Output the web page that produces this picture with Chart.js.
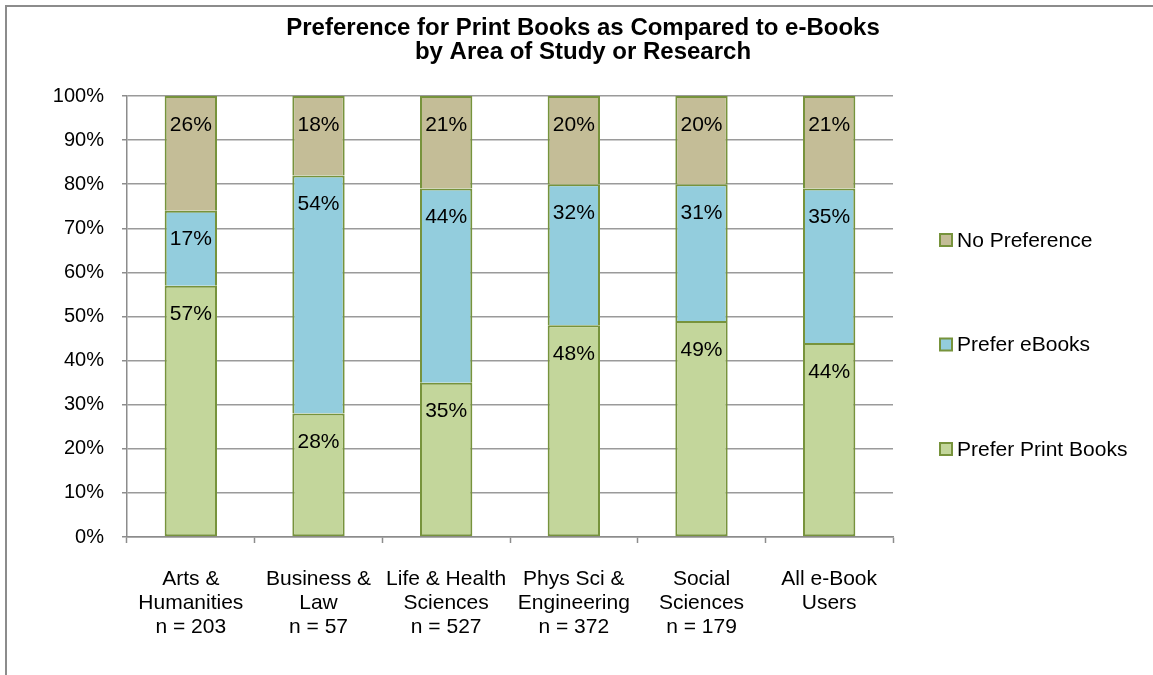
<!DOCTYPE html>
<html>
<head>
<meta charset="utf-8">
<script src="https://cdn.jsdelivr.net/npm/chart.js@4.4.0/dist/chart.umd.min.js"></script>
<style>
  html, body { margin: 0; padding: 0; background: #fff; overflow: hidden; }
  #wrap { width: 1153px; height: 675px; position: relative; }
</style>
</head>
<body>
<div id="wrap"><canvas id="prefChart" width="1153" height="675"></canvas></div>
<script>
// chart data
const categories = [
  ['Arts &', 'Humanities', 'n = 203'],
  ['Business &', 'Law', 'n = 57'],
  ['Life & Health', 'Sciences', 'n = 527'],
  ['Phys Sci &', 'Engineering', 'n = 372'],
  ['Social', 'Sciences', 'n = 179'],
  ['All e-Book', 'Users', '']
];
const preferPrint = [57, 28, 35, 48, 49, 44];
const preferEbooks = [17, 54, 44, 32, 31, 35];
const noPreference = [26, 18, 21, 20, 20, 21];
const yTicks = [0, 10, 20, 30, 40, 50, 60, 70, 80, 90, 100];
const titleLines = ['Preference for Print Books as Compared to e-Books', 'by Area of Study or Research'];

const FONT = "'Liberation Sans', Arial, sans-serif";
const EDGE = '#77933c';

// outer frame of the chart (left + top only, like the source)
const framePlugin = {
  id: 'frame',
  beforeDraw(chart) {
    const ctx = chart.ctx;
    ctx.save();
    ctx.strokeStyle = '#8c8c8c';
    ctx.lineWidth = 2;
    ctx.beginPath();
    ctx.moveTo(6, chart.height + 10);
    ctx.lineTo(6, 6);
    ctx.lineTo(chart.width + 10, 6);
    ctx.stroke();
    ctx.restore();
  }
};

// two-line bold title
const titlePlugin = {
  id: 'twoLineTitle',
  afterDraw(chart) {
    const ctx = chart.ctx;
    ctx.save();
    ctx.font = "bold 24px " + FONT;
    ctx.fillStyle = '#000';
    ctx.textAlign = 'center';
    ctx.textBaseline = 'alphabetic';
    titleLines.forEach((line, i) => ctx.fillText(line, 583, 35 + i * 23.5));
    ctx.restore();
  }
};

// percent labels near the top of each segment
const segLabels = {
  id: 'segLabels',
  afterDatasetsDraw(chart) {
    const ctx = chart.ctx;
    ctx.save();
    ctx.font = "21px " + FONT;
    ctx.fillStyle = '#000';
    ctx.textAlign = 'center';
    ctx.textBaseline = 'middle';
    chart.data.datasets.forEach((ds, i) => {
      chart.getDatasetMeta(i).data.forEach((bar, j) => {
        ctx.fillText(ds.data[j] + '%', bar.x, bar.y + 29);
      });
    });
    ctx.restore();
  }
};

// legend on the right, spread out vertically, top item = last dataset
const sideLegend = {
  id: 'sideLegend',
  afterDraw(chart) {
    const ctx = chart.ctx;
    const x = chart.chartArea.right + 47;
    const ys = [240, 344.5, 449];
    const order = chart.data.datasets.slice().reverse();
    ctx.save();
    ctx.font = "21px " + FONT;
    ctx.textBaseline = 'middle';
    ctx.textAlign = 'left';
    order.forEach((ds, k) => {
      const y = ys[k];
      ctx.fillStyle = ds.backgroundColor;
      ctx.fillRect(x, y - 6, 12, 12);
      ctx.strokeStyle = EDGE;
      ctx.lineWidth = 2;
      ctx.strokeRect(x, y - 6, 12, 12);
      ctx.fillStyle = '#000';
      ctx.fillText(ds.label, x + 17, y + 1);
    });
    ctx.restore();
  }
};

const barStyle = {
  borderColor: EDGE,
  borderSkipped: false,
  categoryPercentage: 1,
  barPercentage: 0.41
};
const edgeAll = { top: 2, left: 2, right: 2, bottom: 2 };
const edgeNoBottom = { top: 2, left: 2, right: 2, bottom: 0 };

new Chart(document.getElementById('prefChart'), {
  type: 'bar',
  data: {
    labels: categories,
    datasets: [
      { label: 'Prefer Print Books', data: preferPrint, backgroundColor: '#c3d69b', borderWidth: edgeAll, ...barStyle },
      { label: 'Prefer eBooks', data: preferEbooks, backgroundColor: '#93cddd', borderWidth: edgeNoBottom, ...barStyle },
      { label: 'No Preference', data: noPreference, backgroundColor: '#c4bd97', borderWidth: edgeNoBottom, ...barStyle }
    ]
  },
  options: {
    responsive: false,
    animation: false,
    devicePixelRatio: 1,
    layout: { padding: { top: 96, left: 0, right: 260, bottom: 0 } },
    plugins: {
      legend: { display: false },
      title: { display: false },
      tooltip: { enabled: false }
    },
    scales: {
      x: {
        stacked: true,
        offset: true,
        afterFit(scale) { scale.height = 138; },
        grid: {
          offset: true,
          drawOnChartArea: false,
          drawTicks: true,
          tickLength: 6,
          tickColor: '#8c8c8c',
          tickWidth: 1.5
        },
        border: { color: '#8c8c8c', width: 1.5 },
        ticks: {
          color: '#000',
          padding: 24,
          maxRotation: 0,
          autoSkip: false,
          font: { family: FONT, size: 21, lineHeight: '24px' }
        }
      },
      y: {
        stacked: true,
        min: 0,
        max: 100,
        afterFit(scale) { scale.width = 127; },
        afterBuildTicks(scale) { scale.ticks = yTicks.map(v => ({ value: v })); },
        grid: {
          color: '#9a9a9a',
          lineWidth: 1.5,
          tickLength: 5,
          tickColor: '#8c8c8c'
        },
        border: { color: '#8c8c8c', width: 1.5 },
        ticks: {
          color: '#000',
          padding: 18,
          font: { family: FONT, size: 20 },
          callback: v => v + '%'
        }
      }
    }
  },
  plugins: [framePlugin, titlePlugin, segLabels, sideLegend]
});
</script>
</body>
</html>
